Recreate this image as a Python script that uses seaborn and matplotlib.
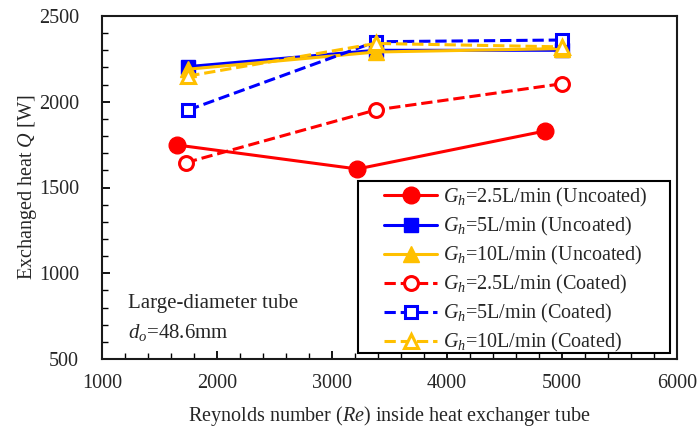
import matplotlib
matplotlib.use("Agg")
import matplotlib.pyplot as plt
from matplotlib.patches import Rectangle
from matplotlib.ticker import MultipleLocator
import seaborn as sns
import pandas as pd

# ---- data ----
re_unc_25 = [1650, 3220, 4850]
q_unc_25 = [1748, 1608, 1829]
re_unc_5 = [1750, 3380, 5000]
q_unc_5 = [2205, 2300, 2300]
re_unc_10 = [1750, 3380, 5000]
q_unc_10 = [2190, 2290, 2310]
re_coat_25 = [1730, 3380, 5000]
q_coat_25 = [1645, 1952, 2105]
re_coat_5 = [1750, 3380, 5000]
q_coat_5 = [1952, 2350, 2360]
re_coat_10 = [1750, 3380, 5000]
q_coat_10 = [2150, 2340, 2320]

labels = [r"$G_h$=2.5L/min (Uncoated)", r"$G_h$=5L/min (Uncoated)",
          r"$G_h$=10L/min (Uncoated)", r"$G_h$=2.5L/min (Coated)",
          r"$G_h$=5L/min (Coated)", r"$G_h$=10L/min (Coated)"]

sns.set_style("white")
plt.rcParams['font.family'] = ['Liberation Serif', 'DejaVu Serif']
plt.rcParams['mathtext.fontset'] = 'custom'
plt.rcParams['mathtext.rm'] = 'Liberation Serif'
plt.rcParams['mathtext.it'] = 'Liberation Serif:italic'

W, H = 697, 430
fig = plt.figure(figsize=(W / 100, H / 100), dpi=100)
ax = fig.add_axes([102 / W, 1 - 359 / H, (677 - 102) / W, (359 - 16) / H])

red, blue, yel = "#FF0000", "#0000FF", "#FFC000"
series = [
    (re_unc_25, q_unc_25, red, "o", "-", True, 12),
    (re_unc_5, q_unc_5, blue, "s", "-", True, 10),
    (re_unc_10, q_unc_10, yel, "^", "-", True, 11),
    (re_coat_25, q_coat_25, red, "o", "--", False, 10),
    (re_coat_5, q_coat_5, blue, "s", "--", False, 9),
    (re_coat_10, q_coat_10, yel, "^", "--", False, 10),
]
handles = []
for (xs, ys, c, m, ls, filled, ms), lab in zip(series, labels):
    df = pd.DataFrame({"x": xs, "y": ys})
    sns.lineplot(data=df, x="x", y="y", ax=ax, color=c, linestyle=ls,
                 linewidth=2.2, marker=m, markersize=ms,
                 markerfacecolor=c if filled else "white",
                 markeredgecolor=c, markeredgewidth=2.2 if not filled else 1,
                 label=lab, legend=False, sort=False)
    handles.append(ax.lines[-1])

ax.set_xlim(1000, 6000)
ax.set_ylim(500, 2500)
ax.set_xticks(range(1000, 6001, 1000))
ax.set_yticks(range(500, 2501, 500))
ax.xaxis.set_minor_locator(MultipleLocator(200))
ax.yaxis.set_minor_locator(MultipleLocator(100))
ax.tick_params(which="both", direction="in", left=True, bottom=True,
               top=False, right=False, labelsize=14.5, color="black")
ax.tick_params(which="major", length=6, width=1.3)
ax.tick_params(which="minor", length=4, width=1.0)
ax.tick_params(axis="x", which="major", pad=11)
ax.tick_params(axis="y", which="major", pad=16.5)
for s in ax.spines.values():
    s.set_color("#1a1a1a")
    s.set_linewidth(1.5)

ax.set_xlabel(r"Reynolds number ($Re$) inside heat exchanger tube", fontsize=14.5, labelpad=8)
ax.set_ylabel(r"Exchanged heat $Q$ [W]", fontsize=14.5, labelpad=0)

ax.text(1226, 826, "Large-diameter tube", fontsize=15, va="center", ha="left")
ax.text(1226, 655, r"$d_o$=48.6mm", fontsize=15, va="center", ha="left")

# legend frame drawn as a rectangle
frame = Rectangle((358 / W, 1 - 353 / H), (670 - 358) / W, (353 - 181) / H,
                  transform=fig.transFigure, facecolor="white",
                  edgecolor="black", linewidth=1.5, zorder=4, clip_on=False)
ax.add_patch(frame)
leg = ax.legend(handles=handles, labels=labels, loc="upper left",
                bbox_to_anchor=(384 / W, 1 - 186 / H), bbox_transform=fig.transFigure,
                fontsize=14.5, frameon=False, handlelength=2.65, borderpad=0.0,
                labelspacing=0.3, handletextpad=0.3, borderaxespad=0.0)
leg.set_zorder(5)

fig.savefig("out.png", dpi=100)
